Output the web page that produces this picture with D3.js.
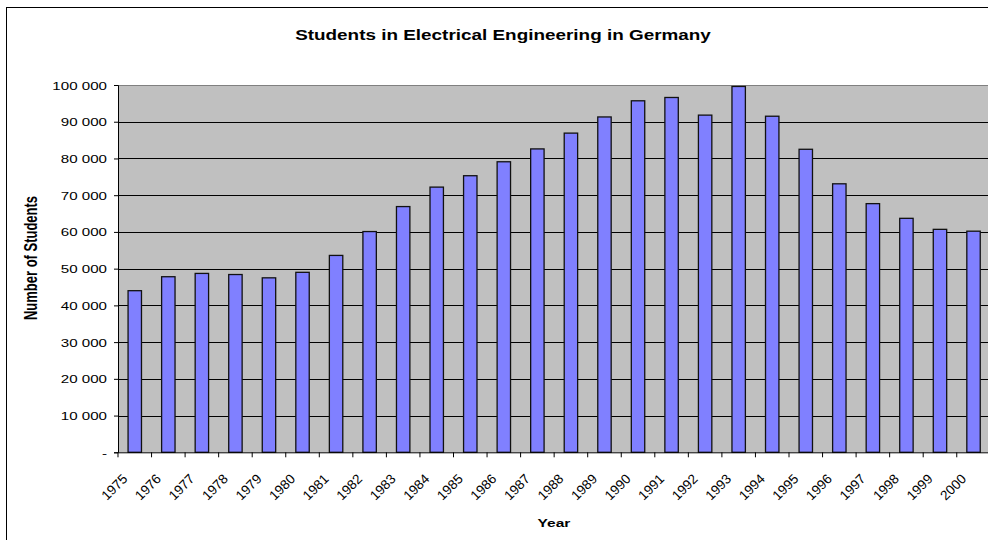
<!DOCTYPE html>
<html>
<head>
<meta charset="utf-8">
<title>Students in Electrical Engineering in Germany</title>
<script src="https://d3js.org/d3.v7.min.js"></script>
<style>
	body { margin: 0; background: #fff; }
	svg { display: block; font-family: "Liberation Sans", Arial, Helvetica, sans-serif; }
</style>
</head>
<body>
<svg id="chart" width="988" height="540"></svg>
<script>
// data
var years = ["1975","1976","1977","1978","1979","1980","1981","1982","1983","1984","1985","1986","1987",
             "1988","1989","1990","1991","1992","1993","1994","1995","1996","1997","1998","1999","2000"];
var students = [44000, 47800, 48700, 48400, 47500, 49000, 53600, 60100, 66900, 72200, 75300, 79100, 82600,
                86900, 91300, 95700, 96600, 91800, 99600, 91500, 82500, 73100, 67700, 63700, 60700, 60200];
var yTicks = [0, 10000, 20000, 30000, 40000, 50000, 60000, 70000, 80000, 90000, 100000];

var titleText = "Students in Electrical Engineering in Germany",
    xTitle = "Year",
    yTitle = "Number of Students";

function draw() {
	// the original picture is stretched sideways, so text gets a horizontal scale
	var stretch = 1.35;

	var svg = d3.select("#chart");
	var plotLeft = 118, plotRight = 990.3, plotTop = 85, plotBottom = 452.3;

	var x = d3.scaleBand().domain(years).range([plotLeft, plotRight]).paddingInner(0.6).paddingOuter(0.3);
	var y = d3.scaleLinear().domain([0, 100000]).range([plotBottom, plotTop]);
	var step = x.step();

	var fmt = d3.formatLocale({decimal: ".", thousands: " ", grouping: [3], currency: ["", ""]}).format(",");

	// outer frame (its right and bottom sides fall outside the picture)
	svg.append("rect")
		.attr("x", 6.5).attr("y", 7.5)
		.attr("width", 994).attr("height", 560)
		.attr("fill", "#fff").attr("stroke", "#000").attr("stroke-width", 1);

	// plot area
	svg.append("rect")
		.attr("x", plotLeft).attr("y", plotTop)
		.attr("width", plotRight - plotLeft).attr("height", plotBottom - plotTop)
		.attr("fill", "#c0c0c0");
	svg.append("line")
		.attr("x1", plotLeft).attr("x2", plotRight)
		.attr("y1", plotTop + 0.5).attr("y2", plotTop + 0.5)
		.attr("stroke", "#808080");

	// gridlines
	svg.append("g")
		.selectAll("line")
		.data(yTicks.filter(function(d) { return d > 0 && d < 100000; }))
		.join("line")
			.attr("x1", plotLeft).attr("x2", plotRight)
			.attr("y1", function(d) { return Math.round(y(d)) + 0.5; })
			.attr("y2", function(d) { return Math.round(y(d)) + 0.5; })
			.attr("stroke", "#000").attr("stroke-width", 1);

	// bars
	svg.append("g")
		.selectAll("rect")
		.data(years)
		.join("rect")
			.attr("x", function(d) { return x(d); })
			.attr("y", function(d, i) { return y(students[i]); })
			.attr("width", x.bandwidth())
			.attr("height", function(d, i) { return y(0) - y(students[i]); })
			.attr("fill", "#8080ff")
			.attr("stroke", "#111")
			.attr("stroke-width", 1.3);

	// y axis
	var yAxis = svg.append("g")
		.attr("transform", "translate(" + plotLeft + ",0)")
		.call(d3.axisLeft(y)
			.tickValues(yTicks)
			.tickSize(4)
			.tickFormat(function(d) { return d === 0 ? "-" : fmt(d); }));
	yAxis.select(".domain").attr("stroke", "#000");
	yAxis.selectAll(".tick line").attr("stroke", "#000");
	yAxis.selectAll(".tick text")
		.attr("x", null).attr("dy", null)
		.attr("transform", "translate(-11,4) scale(" + stretch + ",1)")
		.attr("font-size", 11.2)
		.attr("font-family", "Liberation Sans, Arial, sans-serif")
		.attr("fill", "#000");

	// x axis, ticks sit between categories
	var xAxis = svg.append("g")
		.attr("transform", "translate(0," + plotBottom + ")")
		.call(d3.axisBottom(x).tickSize(5).tickSizeOuter(0));
	xAxis.select(".domain").attr("stroke", "#000");
	xAxis.selectAll(".tick line")
		.attr("stroke", "#000")
		.attr("transform", "translate(" + (-step / 2) + ",0)");
	xAxis.selectAll(".tick text")
		.attr("y", null).attr("dy", null)
		.attr("text-anchor", "end")
		.attr("transform", "translate(-6.5,27.5) rotate(-45)")
		.attr("font-size", 13.5)
		.attr("font-family", "Liberation Sans, Arial, sans-serif")
		.attr("fill", "#000");

	// titles
	svg.append("text")
		.attr("transform", "translate(503,39.5) scale(" + stretch + ",1)")
		.attr("text-anchor", "middle")
		.attr("font-size", 14)
		.attr("font-weight", "bold")
		.text(titleText);

	svg.append("text")
		.attr("transform", "translate(554,526.5) scale(" + stretch + ",1)")
		.attr("text-anchor", "middle")
		.attr("font-size", 11.5)
		.attr("font-weight", "bold")
		.text(xTitle);

	svg.append("text")
		.attr("transform", "translate(37,258) scale(" + stretch + ",1) rotate(-90)")
		.attr("text-anchor", "middle")
		.attr("font-size", 13)
		.attr("font-weight", "bold")
		.text(yTitle);
}

draw();
</script>
</body>
</html>
